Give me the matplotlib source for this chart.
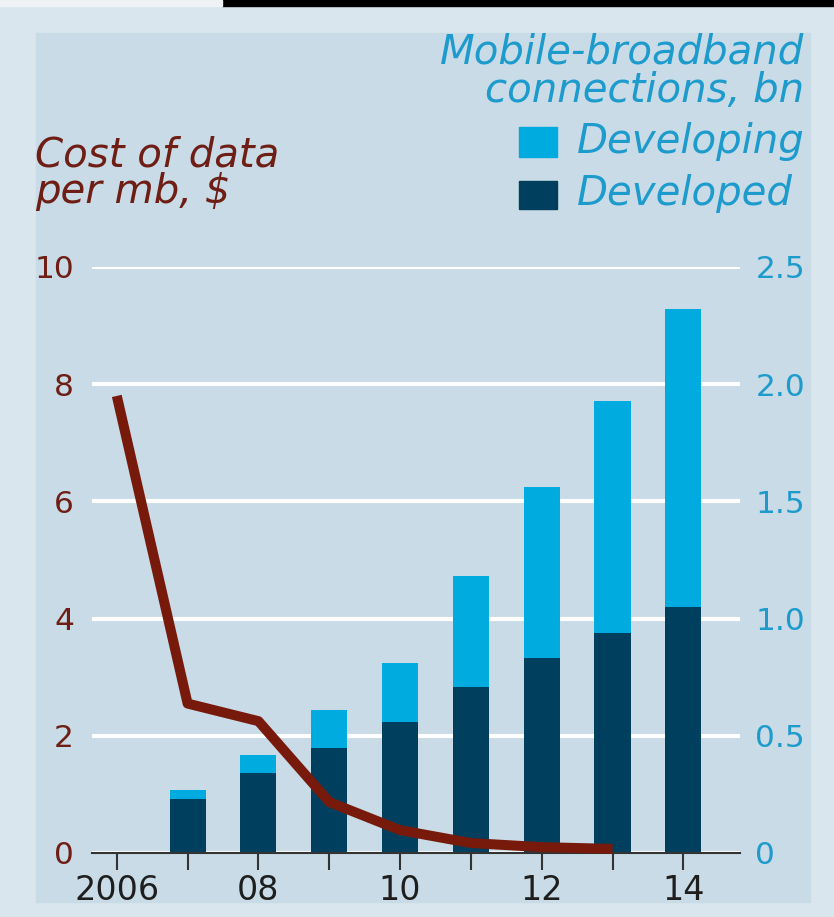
import matplotlib.pyplot as plt
from matplotlib.patches import Rectangle

# data
years = [2006, 2007, 2008, 2009, 2010, 2011, 2012, 2013, 2014]
bar_years = [2007, 2008, 2009, 2010, 2011, 2012, 2013, 2014]
developed = [0.23, 0.34, 0.45, 0.56, 0.71, 0.83, 0.94, 1.05]
total = [0.27, 0.42, 0.61, 0.81, 1.18, 1.56, 1.93, 2.32]
developing = [t - d for t, d in zip(total, developed)]
cost_years = [2006, 2007, 2008, 2009, 2010, 2011, 2012, 2013]
cost = [7.8, 2.55, 2.25, 0.87, 0.39, 0.17, 0.10, 0.07]
xlabels = ['2006', '', '08', '', '10', '', '12', '', '14']
left_ticks = [0, 2, 4, 6, 8, 10]
right_ticks = [0, 0.5, 1.0, 1.5, 2.0, 2.5]
right_labels = ['0', '0.5', '1.0', '1.5', '2.0', '2.5']

c_dev = '#00405e'
c_deving = '#00abe0'
c_line = '#771a0c'
c_red_txt = '#6e1e14'
c_blue_txt = '#1d9bcc'
bg_in = '#c8dbe6'
bg_out = '#d9e6ed'

W, H = 834, 917
fig = plt.figure(figsize=(W / 100, H / 100), dpi=100)
fig.patch.set_facecolor(bg_out)

def fx(x):
    return x / W

def fy(y):
    return 1 - y / H

# frame bits
fig.patches.append(Rectangle((fx(36), fy(902)), fx(810) - fx(36), fy(33) - fy(902),
                             transform=fig.transFigure, color=bg_in, zorder=-10))
fig.patches.append(Rectangle((fx(222), fy(6)), 1 - fx(222), fy(0) - fy(6),
                             transform=fig.transFigure, color='black', zorder=-9))
fig.patches.append(Rectangle((0, fy(6)), fx(222), fy(0) - fy(6),
                             transform=fig.transFigure, color='#eef2f4', zorder=-9))

ax = fig.add_axes([fx(92), fy(853), fx(740) - fx(92), fy(267) - fy(853)])
ax.set_facecolor('none')
ax2 = ax.twinx()

ax.bar(bar_years, developed, width=0.51, color=c_dev, zorder=3)
ax.bar(bar_years, developing, bottom=developed, width=0.51, color=c_deving, zorder=3)
ax.set_ylim(0, 2.5)
ax.set_xlim(2005.65, 2014.8)
ax.yaxis.tick_right()
ax.set_yticks(right_ticks)
ax.set_yticklabels(right_labels)
ax.tick_params(axis='y', length=0, pad=11, labelsize=22.5, labelcolor=c_blue_txt)
ax.yaxis.grid(True, color='white', linewidth=3)
ax.set_axisbelow(True)
ax.set_xticks(years)
ax.set_xticklabels(xlabels)
ax.tick_params(axis='x', length=12, width=1.5, color='#333333', pad=3,
               labelsize=24, labelcolor='#1e1e1e')
for s in ['top', 'left', 'right']:
    ax.spines[s].set_visible(False)
ax.spines['bottom'].set_color('#333333')
ax.spines['bottom'].set_linewidth(1.5)
ax.spines['bottom'].set_zorder(4)

ax2.plot(cost_years, cost, color=c_line, linewidth=7.2, solid_joinstyle='round',
         solid_capstyle='butt', clip_on=False, zorder=5)
ax2.set_ylim(0, 10)
ax2.yaxis.tick_left()
ax2.set_yticks(left_ticks)
ax2.tick_params(axis='y', length=0, pad=13, labelsize=22.5, labelcolor=c_red_txt)
for s in ['top', 'left', 'right', 'bottom']:
    ax2.spines[s].set_visible(False)

# titles and legend
fig.text(fx(35), fy(203), 'Cost of data\nper mb, $', style='italic', fontsize=29,
         color=c_red_txt, va='baseline', ha='left', linespacing=0.93)
fig.text(fx(804), fy(102), 'Mobile-broadband\nconnections, bn', style='italic',
         fontsize=29, color=c_blue_txt, va='baseline', ha='right',
         multialignment='right', linespacing=1.0)
fig.patches.append(Rectangle((fx(519), fy(157)), fx(557) - fx(519), fy(127) - fy(157),
                             transform=fig.transFigure, color=c_deving))
fig.patches.append(Rectangle((fx(519), fy(209)), fx(557) - fx(519), fy(181) - fy(209),
                             transform=fig.transFigure, color=c_dev))
fig.text(fx(577), fy(153), 'Developing', style='italic', fontsize=29,
         color=c_blue_txt, va='baseline', ha='left')
fig.text(fx(577), fy(205), 'Developed', style='italic', fontsize=29,
         color=c_blue_txt, va='baseline', ha='left')

fig.savefig('out.png', dpi=100, facecolor=fig.get_facecolor())
